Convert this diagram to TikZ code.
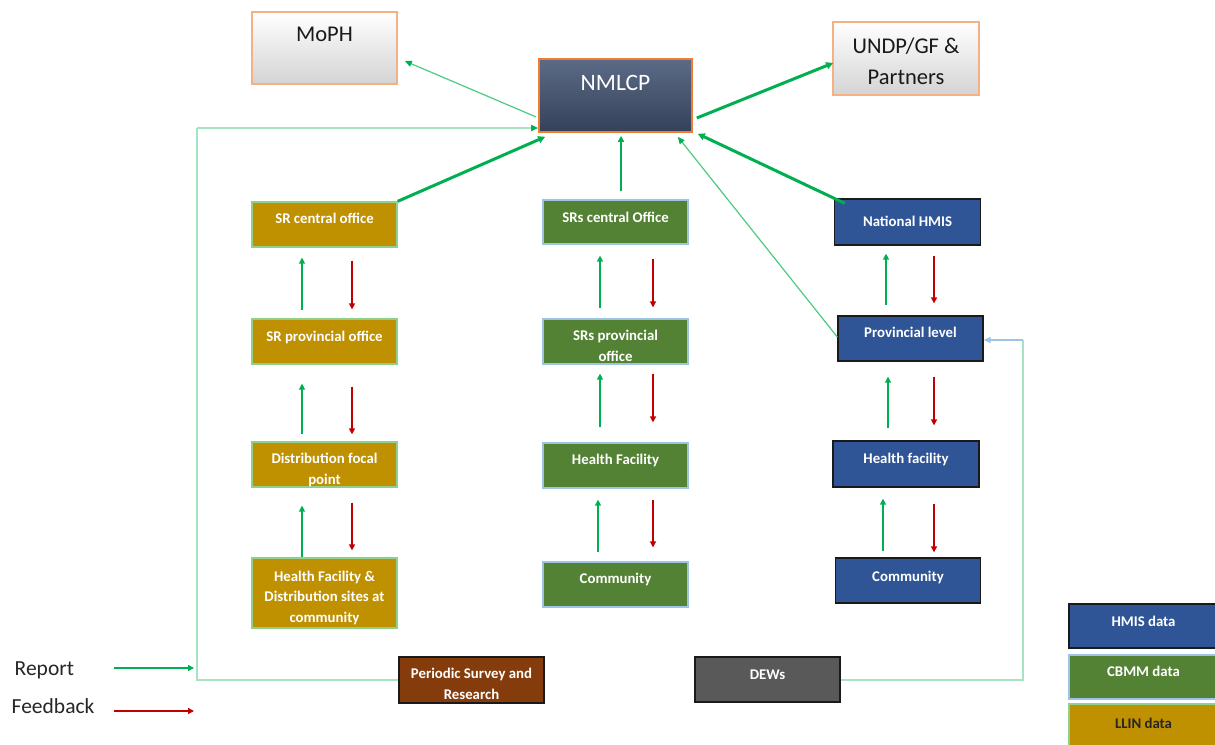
\documentclass[tikz,border=0pt]{standalone}
\usepackage{fontspec}
\setmainfont{Carlito}
\usetikzlibrary{arrows.meta,calc}
\definecolor{gold}{HTML}{BF9000}
\definecolor{cgreen}{HTML}{548235}
\definecolor{hblue}{HTML}{2F5597}
\definecolor{brown}{HTML}{843C0C}
\definecolor{dgray}{HTML}{595959}
\definecolor{rptc}{HTML}{00B050}
\definecolor{fbc}{HTML}{C00000}
\definecolor{palec}{HTML}{A6E3C0}
\definecolor{thinc}{HTML}{4CCB82}
\definecolor{lblue}{HTML}{9DC3E6}
\definecolor{orng}{HTML}{F4B183}
\definecolor{orng2}{HTML}{ED7D31}
\definecolor{slateT}{HTML}{5B6B86}
\definecolor{slateB}{HTML}{354159}
\definecolor{goldbd}{HTML}{8FD18A}
\definecolor{darkbd}{HTML}{1A1A1A}
\newcommand\bt[2]{\raisebox{#1pt}[0pt][0pt]{\begin{tabular}[b]{@{}c@{}}#2\end{tabular}}}
\begin{document}
\begin{tikzpicture}[x=1pt,y=-1pt,
  box/.style={draw, minimum width=145pt, minimum height=45pt, inner sep=0pt,
    text=white, font=\fontsize{14.8}{20.5}\selectfont\bfseries, line width=1.3pt},
  llin/.style={box, fill=gold, draw=goldbd},
  cbmm/.style={box, fill=cgreen, draw=lblue},
  hmis/.style={box, fill=hblue, draw=darkbd},
  topbox/.style={draw=orng, line width=1.6pt, top color=white, bottom color=black!17,
    minimum width=145pt, minimum height=72pt, inner sep=0pt,
    font=\fontsize{22.5}{31}\selectfont, text=black!90},
  rep/.style={draw=rptc, line width=2.4pt, -{Triangle[length=6pt,width=6pt]}},
  fb/.style={draw=fbc, line width=2.4pt, -{Triangle[length=6pt,width=6pt]}},
  thick rep/.style={draw=rptc, line width=3pt, -{Triangle[length=7pt,width=7pt]}},
  thin rep/.style={draw=thinc, line width=1.2pt, -{Triangle[length=7pt,width=6pt,color=rptc]}},
  loopc/.style={draw=palec, line width=2pt},
  legtxt/.style={font=\fontsize{21.5}{24}\selectfont, text=black!85, inner sep=0pt}
]
\clip (0,0) rectangle (1215,744);
\fill[white] (0,0) rectangle (1215,744);

% top boxes
\node[topbox] (moph) at (324.5,48) {\bt{6}{MoPH}};
\node[draw=orng2, line width=1.6pt, top color=slateT, bottom color=slateB,
  minimum width=153pt, minimum height=73pt, inner sep=0pt, text=white,
  font=\fontsize{23.5}{26}\selectfont] (nmlcp) at (615.5,95.5) {\bt{5.5}{NMLCP}};
\node[topbox, minimum width=146pt, minimum height=73pt] (undp) at (906,58.5) {\bt{-25.5}{UNDP/GF \&\\Partners}};

% LLIN column
\node[llin] (sr1) at (324.5,224.5) {\bt{1.5}{SR central office}};
\node[llin] (sr2) at (324.5,341.5) {\bt{0.5}{SR provincial office}};
\node[llin] (sr3) at (324.5,464.5) {\bt{-19.5}{Distribution focal\\point}};
\node[llin, minimum height=70pt] (sr4) at (324.5,593) {\bt{-29}{Health Facility \&\\Distribution sites at\\community}};

% CBMM column
\node[cbmm, minimum height=44pt] (cb1) at (615.5,222) {\bt{0}{SRs central Office}};
\node[cbmm] (cb2) at (615.5,341.5) {\bt{-19.5}{SRs provincial\\office}};
\node[cbmm] (cb3) at (615.5,465.5) {\bt{1.5}{Health Facility}};
\node[cbmm] (cb4) at (615.5,584.5) {\bt{1.5}{Community}};

% HMIS column
\node[hmis, minimum width=146pt, minimum height=46pt] (hm1) at (907.5,222) {\bt{-4}{National HMIS}};
\node[hmis] (hm2) at (910.5,338.5) {\bt{1.5}{Provincial level}};
\node[hmis, minimum width=146pt, minimum height=46pt] (hm3) at (906,464) {\bt{1}{Health facility}};
\node[hmis] (hm4) at (908,580.5) {\bt{-0.5}{Community}};

% bottom boxes
\node[box, fill=brown, draw=darkbd, minimum height=46pt] (psr) at (471.5,680) {\bt{-19}{Periodic Survey and\\Research}};
\node[box, fill=dgray, draw=darkbd] (dews) at (767.5,679.5) {\bt{0.5}{DEWs}};

% legend boxes
\node[hmis, minimum width=149pt, minimum height=44pt] (lg1) at (1143.5,626) {\bt{0}{HMIS data}};
\node[cbmm, minimum width=149pt, minimum height=44pt] (lg2) at (1143.5,677) {\bt{1}{CBMM data}};
\node[llin, minimum width=149pt, minimum height=44pt, text=black!85] (lg3) at (1143.5,726) {\bt{-2}{LLIN data}};

% arrows to/from NMLCP
\draw[thick rep] (sr1.north east) -- ($(nmlcp.south west)+(7,4)$);
\draw[thin rep] ($(nmlcp.west)+(-2,21.5)$) -- ($(moph.east)+(7,13)$);
\draw[thick rep] ($(nmlcp.east)+(4,22.5)$) -- ($(undp.west)+(1,4.5)$);
\draw[thick rep] ($(hm1.north west)+(11,5)$) -- ($(nmlcp.south east)+(5,1)$);
\draw[thin rep] ($(hm2.west)+(0,-1.5)$) -- ($(nmlcp.south east)+(-15,4)$);
\draw[rep] ($(cb1.north)+(5.5,-8)$) -- ($(nmlcp.south)+(5.5,3)$);

% LLIN column arrows
\draw[rep] ($(sr2.north)+(-22.5,-8)$) -- ($(sr1.south)+(-22.5,10)$);
\draw[fb]  ($(sr1.south)+(27.5,13)$) -- ($(sr2.north)+(27.5,-9)$);
\draw[rep] ($(sr3.north)+(-22.5,-7)$) -- ($(sr2.south)+(-22.5,19)$);
\draw[fb]  ($(sr2.south)+(27.5,22)$) -- ($(sr3.north)+(27.5,-7)$);
\draw[rep] ($(sr4.north)+(-22.5,0)$) -- ($(sr3.south)+(-22.5,18)$);
\draw[fb]  ($(sr3.south)+(27.5,15)$) -- ($(sr4.north)+(27.5,-7)$);

% CBMM column arrows
\draw[rep] ($(cb2.north)+(-15.5,-10)$) -- ($(cb1.south)+(-15.5,11)$);
\draw[fb]  ($(cb1.south)+(37.5,14)$) -- ($(cb2.north)+(37.5,-11)$);
\draw[rep] ($(cb3.north)+(-15.5,-15)$) -- ($(cb2.south)+(-15.5,9)$);
\draw[fb]  ($(cb2.south)+(37.5,9)$) -- ($(cb3.north)+(37.5,-20)$);
\draw[rep] ($(cb4.north)+(-17.5,-9)$) -- ($(cb3.south)+(-17.5,11)$);
\draw[fb]  ($(cb3.south)+(37.5,11)$) -- ($(cb4.north)+(37.5,-14)$);

% HMIS column arrows
\draw[rep] ($(hm2.north)+(-24.5,-10)$) -- ($(hm1.south)+(-21.5,8)$);
\draw[fb]  ($(hm1.south)+(26.5,10)$) -- ($(hm2.north)+(23.5,-12)$);
\draw[rep] ($(hm3.north)+(-18,-12)$) -- ($(hm2.south)+(-22.5,15)$);
\draw[fb]  ($(hm2.south)+(23.5,15)$) -- ($(hm3.north)+(28,-15)$);
\draw[rep] ($(hm4.north)+(-25,-6)$) -- ($(hm3.south)+(-23,11)$);
\draw[fb]  ($(hm3.south)+(28,16)$) -- ($(hm4.north)+(26,-5)$);

% feedback loops
\coordinate (lp) at (197,128);
\draw[loopc] (psr.west) -| (lp);
\draw[thin rep, draw=palec, line width=1.6pt] (lp) -- (lp -| nmlcp.west);
\coordinate (rp) at (1023,340);
\draw[loopc] (dews.east) -| (rp);
\draw[draw=lblue, line width=1.4pt, -{Triangle[length=7pt,width=6pt]}] (rp) -- (rp -| hm2.east);

% legend
\node[legtxt, anchor=base west] (lrep) at (14.5,675) {Report};
\node[legtxt, anchor=base west] (lfb) at (11.5,713) {Feedback};
\coordinate (r0) at (114,668);
\coordinate (r1) at (194,668);
\coordinate (f0) at (114,711);
\coordinate (f1) at (194,711);
\draw[rep, line width=2pt] (r0) -- (r1);
\draw[fb, line width=2pt] (f0) -- (f1);
\end{tikzpicture}
\end{document}
